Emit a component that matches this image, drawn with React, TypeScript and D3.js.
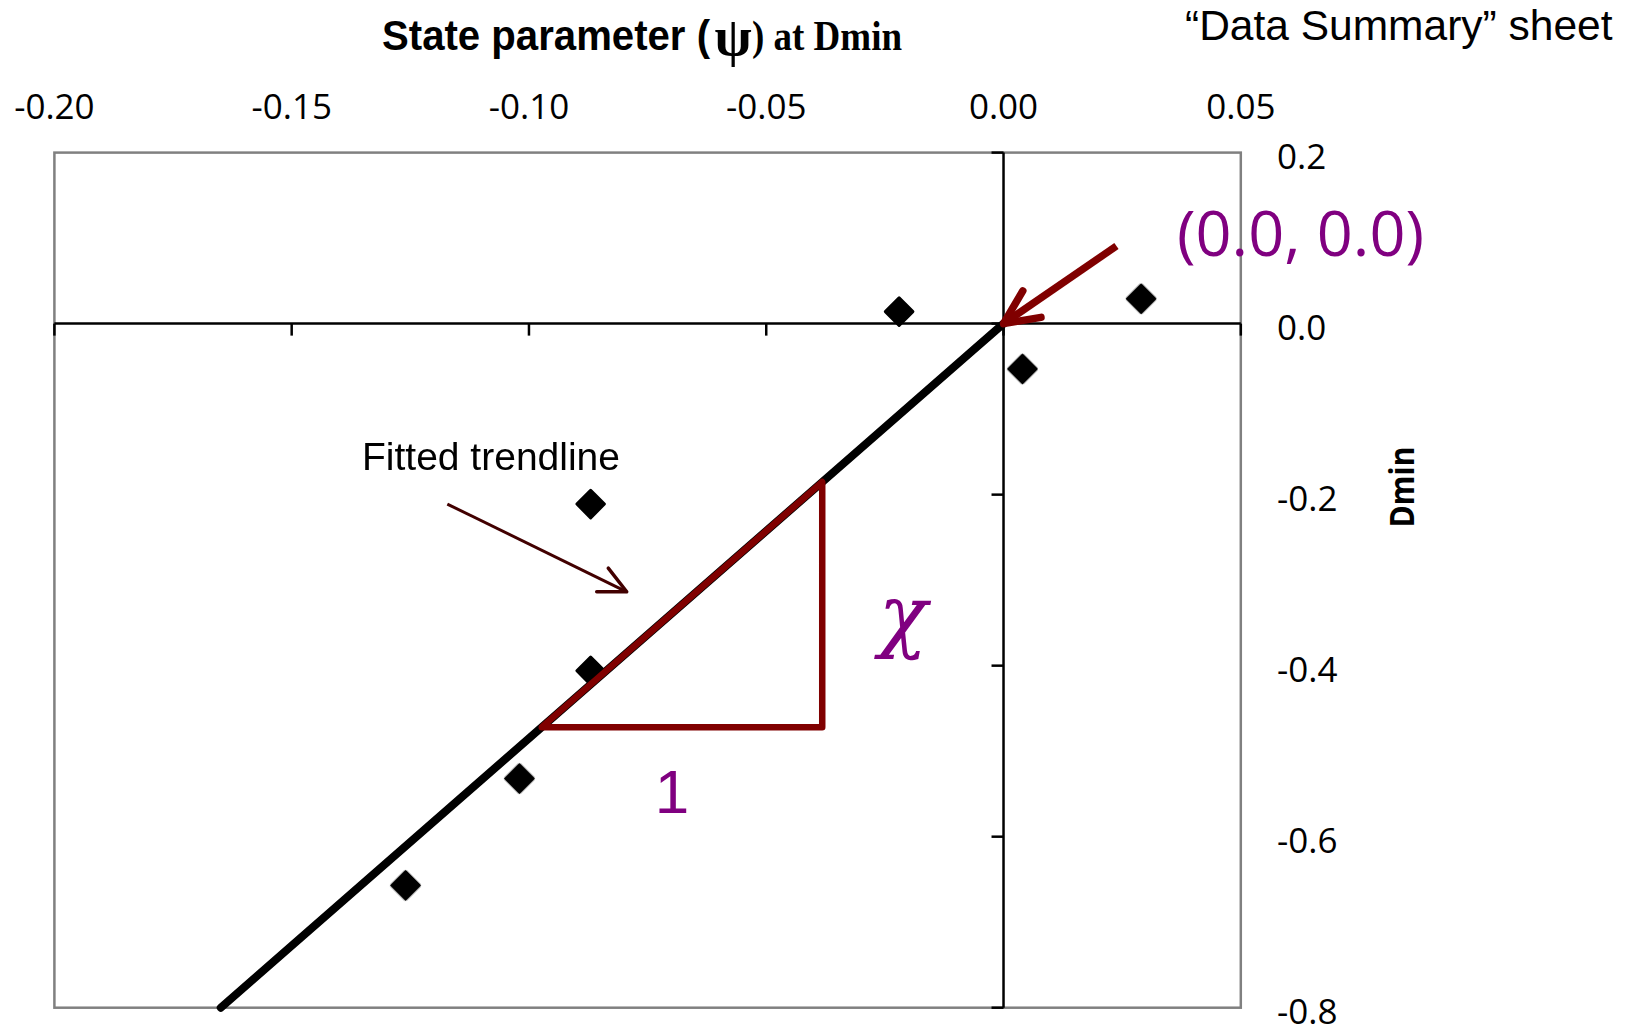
import React from "react";
import * as d3 from "d3";

// State parameter (psi) at Dmin vs Dmin, from the "Data Summary" sheet
const psiValues = [-0.022, 0.029, 0.004, -0.087, -0.087, -0.102, -0.126];
const dminValues = [0.014, 0.029, -0.053, -0.211, -0.406, -0.532, -0.657];

const xTickValues = [-0.2, -0.15, -0.1, -0.05, 0, 0.05];
const yTickValues = [0.2, 0, -0.2, -0.4, -0.6, -0.8];

// Fitted trendline through the origin, slope chi
const chiSlope = 4.85;
// Run of the slope triangle drawn along the trendline
const triangleRun = [-0.0973, -0.0382];

// Annotation arrows (data coordinates: [psi, Dmin])
const originArrow = { from: [0.0238, 0.0908], to: [0, 0] };
const trendArrow = { from: [-0.1172, -0.211], to: [-0.0794, -0.3136] };

const W = 1639;
const H = 1029;

const PURPLE = "#800080";
const DARK_RED = "#800000";

function arrowHead(tip: [number, number], tail: [number, number], len: number, angleDeg: number) {
  const dx = tail[0] - tip[0];
  const dy = tail[1] - tip[1];
  const a = Math.atan2(dy, dx);
  const h = (angleDeg * Math.PI) / 180;
  const p = d3.path();
  p.moveTo(tip[0] + len * Math.cos(a + h), tip[1] + len * Math.sin(a + h));
  p.lineTo(tip[0], tip[1]);
  p.lineTo(tip[0] + len * Math.cos(a - h), tip[1] + len * Math.sin(a - h));
  return p.toString();
}

// plain hyphen-minus, as in a spreadsheet axis
const hyphen = (s: string) => s.replace("\u2212", "-");

export default function App() {
  const x = d3.scaleLinear().domain([-0.2, 0.05]).range([54.4, 1240.8]);
  const y = d3.scaleLinear().domain([0.2, -0.8]).range([152.6, 1007.7]);

  const fmtX = d3.format(".2f");
  const fmtY = d3.format(".1f");

  const x0 = x(0);
  const y0 = y(0);

  const trendEnd = y.domain()[1] / chiSlope;
  const trendLine = d3.line<[number, number]>()
    .x((d) => x(d[0]))
    .y((d) => y(d[1]))([
      [0, 0],
      [trendEnd, chiSlope * trendEnd],
    ]);

  const [tx0, tx1] = triangleRun;
  const triangle = d3.line<[number, number]>()
    .x((d) => x(d[0]))
    .y((d) => y(d[1]))([
      [tx0, chiSlope * tx0],
      [tx1, chiSlope * tx1],
      [tx1, chiSlope * tx0],
      [tx0, chiSlope * tx0],
    ]) + "Z";

  const marker = d3.symbol().type(d3.symbolSquare).size(380)();

  const oTail: [number, number] = [x(originArrow.from[0]), y(originArrow.from[1])];
  const oTip: [number, number] = [x(originArrow.to[0]), y(originArrow.to[1])];
  const tTail: [number, number] = [x(trendArrow.from[0]), y(trendArrow.from[1])];
  const tTip: [number, number] = [x(trendArrow.to[0]), y(trendArrow.to[1])];

  return (
    <svg
      width={W}
      height={H}
      viewBox={`0 0 ${W} ${H}`}
      style={{ position: "absolute", left: 0, top: 0, background: "#fff" }}
    >
      <defs>
        <filter id="soft" x="-50%" y="-50%" width="200%" height="200%">
          <feGaussianBlur stdDeviation="0.7" />
        </filter>
      </defs>
      <rect x={0} y={0} width={W} height={H} fill="#fff" />

      {/* plot frame */}
      <rect
        x={x(-0.2)}
        y={y(0.2)}
        width={x(0.05) - x(-0.2)}
        height={y(-0.8) - y(0.2)}
        fill="none"
        stroke="#808080"
        strokeWidth={2.5}
      />

      {/* horizontal axis at Dmin = 0 */}
      <line x1={x(-0.2)} x2={x(0.05)} y1={y0} y2={y0} stroke="#000" strokeWidth={2.5} />
      {xTickValues.map((v) => (
        <line key={"xt" + v} x1={x(v)} x2={x(v)} y1={y0} y2={y0 + 12} stroke="#000" strokeWidth={2.5} />
      ))}
      {xTickValues.map((v) => (
        <text
          key={"xl" + v}
          x={x(v)}
          y={119}
          textAnchor="middle"
          fontFamily="'Open Sans', 'Noto Sans', sans-serif"
          fontSize={35}
          fill="#000"
        >
          {hyphen(fmtX(v))}
        </text>
      ))}

      {/* vertical axis at psi = 0 */}
      <line x1={x0} x2={x0} y1={y(0.2)} y2={y(-0.8)} stroke="#000" strokeWidth={2.5} />
      {yTickValues.map((v) => (
        <line key={"yt" + v} x1={x0 - 12} x2={x0} y1={y(v)} y2={y(v)} stroke="#000" strokeWidth={2.5} />
      ))}
      {yTickValues.map((v) => (
        <text
          key={"yl" + v}
          x={1277}
          y={y(v) + 16}
          fontFamily="'Open Sans', 'Noto Sans', sans-serif"
          fontSize={35}
          fill="#000"
        >
          {hyphen(fmtY(v))}
        </text>
      ))}

      {/* axis titles */}
      <text
        x={382}
        y={50}
        fontFamily="'Liberation Sans', Arial, sans-serif"
        fontWeight="bold"
        fontSize={43}
        textLength={328}
        lengthAdjust="spacingAndGlyphs"
      >
        State parameter (
      </text>
      <text
        x={733}
        y={55}
        textAnchor="middle"
        fontFamily="'Liberation Serif', 'DejaVu Serif', serif"
        fontWeight="bold"
        fontSize={54}
      >
        ψ
      </text>
      <text
        x={752}
        y={50}
        fontFamily="'Liberation Serif', 'Times New Roman', serif"
        fontWeight="bold"
        fontSize={42}
        textLength={150}
        lengthAdjust="spacingAndGlyphs"
      >
        ) at Dmin
      </text>
      <text x={1185} y={40} fontFamily="'Liberation Sans', Arial, sans-serif" fontSize={42.5}>
        “Data Summary” sheet
      </text>
      <text
        transform="translate(1414, 487) rotate(-90)"
        textAnchor="middle"
        fontFamily="'Open Sans', 'Noto Sans', sans-serif"
        fontWeight="bold"
        fontSize={34}
        textLength={81}
        lengthAdjust="spacingAndGlyphs"
      >
        Dmin
      </text>

      {/* data points */}
      <g filter="url(#soft)">
        {psiValues.map((p, i) => (
          <path
            key={"pt" + i}
            d={marker}
            transform={`translate(${x(p)},${y(dminValues[i])}) rotate(45)`}
            fill="#000"
            stroke="#000"
            strokeWidth={3}
            strokeLinejoin="round"
          />
        ))}
      </g>

      {/* fitted trendline */}
      <path d={trendLine ?? ""} stroke="#000" strokeWidth={8} fill="none" strokeLinecap="round" />

      {/* slope triangle */}
      <path d={triangle} stroke={DARK_RED} strokeWidth={6.5} fill="none" strokeLinejoin="round" />
      <text x={903} y={642} textAnchor="middle" fontFamily="'DejaVu Serif', 'Liberation Serif', serif" fontStyle="italic" fontSize={80} fill={PURPLE}>
        χ
      </text>
      <text x={672} y={813} textAnchor="middle" fontFamily="'Liberation Sans', Arial, sans-serif" fontSize={62} fill={PURPLE}>
        1
      </text>

      {/* arrow to the origin */}
      <line x1={oTail[0]} y1={oTail[1]} x2={oTip[0]} y2={oTip[1]} stroke={DARK_RED} strokeWidth={7.5} />
      <path d={arrowHead(oTip, oTail, 38, 25)} stroke={DARK_RED} strokeWidth={7.5} fill="none" strokeLinecap="round" strokeLinejoin="round" />
      <text x={1177} y={256} fontFamily="'Open Sans', 'Noto Sans', sans-serif" fontSize={63} fill={PURPLE}>
        (0.0, 0.0)
      </text>

      {/* arrow to the trendline */}
      <text x={362} y={470} fontFamily="'Liberation Sans', Arial, sans-serif" fontSize={39} fill="#000">
        Fitted trendline
      </text>
      <line x1={tTail[0]} y1={tTail[1]} x2={tTip[0]} y2={tTip[1]} stroke="#420000" strokeWidth={3} />
      <path d={arrowHead(tTip, tTail, 30, 26)} stroke="#420000" strokeWidth={3.5} fill="none" strokeLinecap="round" strokeLinejoin="round" />
    </svg>
  );
}
